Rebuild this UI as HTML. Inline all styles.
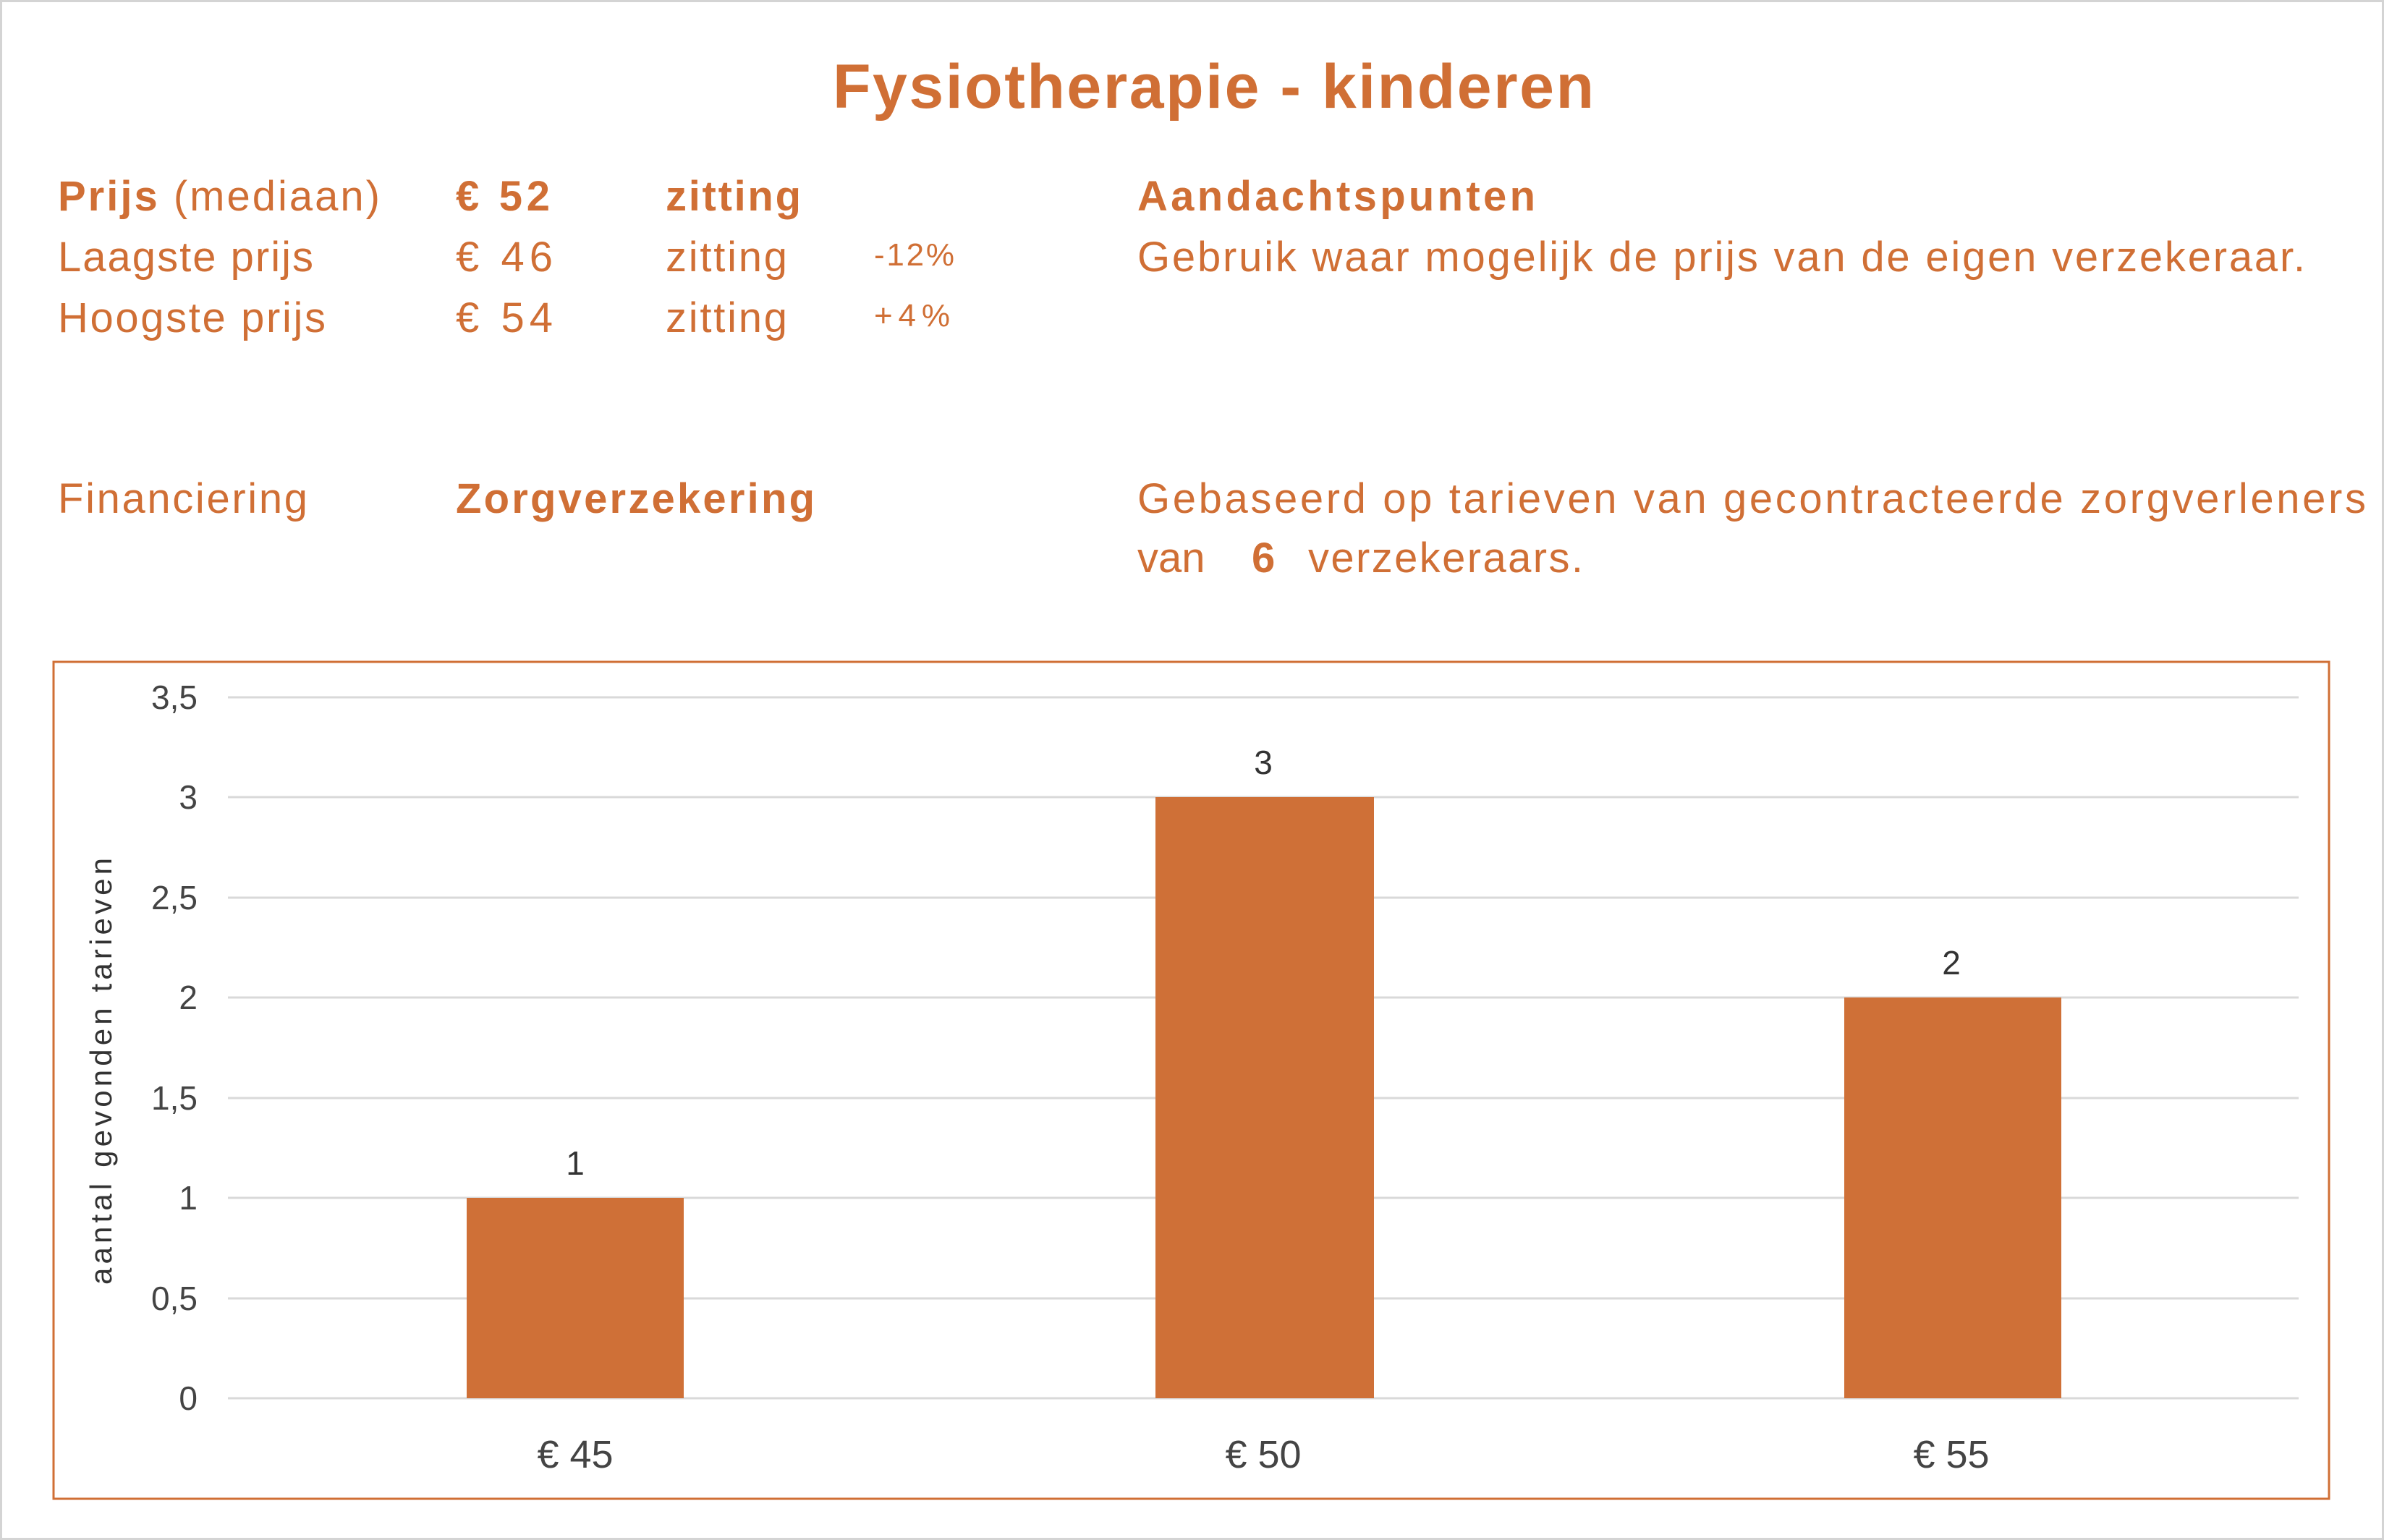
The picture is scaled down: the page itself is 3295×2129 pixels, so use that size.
<!DOCTYPE html>
<html><head><meta charset="utf-8"><style>html,body{margin:0;padding:0;background:#fff}svg{display:block}</style></head>
<body>
<svg width="3295" height="2129" xmlns="http://www.w3.org/2000/svg" font-family="Liberation Sans, sans-serif">
<rect x="0" y="0" width="3295" height="2129" fill="#fff"/>
<rect x="1.5" y="1.5" width="3292" height="2126" fill="none" stroke="#d4d4d4" stroke-width="3"/>
<g fill="#D06F35">
<text x="1677" y="149" font-size="86" font-weight="bold" text-anchor="middle" textLength="1052">Fysiotherapie - kinderen</text>
<g font-size="58">
<text x="80" y="291" textLength="445"><tspan font-weight="bold">Prijs</tspan> (mediaan)</text>
<text x="630" y="291" font-weight="bold" textLength="130">€ 52</text>
<text x="920" y="291" font-weight="bold" textLength="187">zitting</text>
<text x="1572" y="291" font-weight="bold" textLength="550">Aandachtspunten</text>
<text x="80" y="375" textLength="353">Laagste prijs</text>
<text x="630" y="375" textLength="134">€ 46</text>
<text x="920" y="375" textLength="168">zitting</text>
<text x="1208" y="367" font-size="44" textLength="111">-12%</text>
<text x="1572" y="375" textLength="1614">Gebruik waar mogelijk de prijs van de eigen verzekeraar.</text>
<text x="80" y="459" textLength="370">Hoogste prijs</text>
<text x="630" y="459" textLength="134">€ 54</text>
<text x="920" y="459" textLength="168">zitting</text>
<text x="1208" y="451" font-size="44" textLength="105">+4%</text>
<text x="80" y="709" textLength="345">Financiering</text>
<text x="630" y="709" font-weight="bold" textLength="496">Zorgverzekering</text>
<text x="1572" y="709" textLength="1698">Gebaseerd op tarieven van gecontracteerde zorgverleners</text>
<text x="1572" y="791">van</text>
<text x="1730" y="791" font-weight="bold">6</text>
<text x="1808" y="791" textLength="380">verzekeraars.</text>
</g>
</g>
<rect x="74" y="915" width="3145" height="1157" fill="none" stroke="#D06F35" stroke-width="3"/>
<g stroke="#d9d9d9" stroke-width="3">
<line x1="315" x2="3177" y1="964" y2="964"/>
<line x1="315" x2="3177" y1="1102" y2="1102"/>
<line x1="315" x2="3177" y1="1241" y2="1241"/>
<line x1="315" x2="3177" y1="1379" y2="1379"/>
<line x1="315" x2="3177" y1="1518" y2="1518"/>
<line x1="315" x2="3177" y1="1656" y2="1656"/>
<line x1="315" x2="3177" y1="1795" y2="1795"/>
<line x1="315" x2="3177" y1="1933" y2="1933"/>
</g>
<g fill="#CF7037">
<rect x="645" y="1656" width="300" height="277"/>
<rect x="1597" y="1102" width="302" height="831"/>
<rect x="2549" y="1379" width="300" height="554"/>
</g>
<g fill="#444" font-size="46" text-anchor="end">
<text x="273" y="980">3,5</text>
<text x="273" y="1118">3</text>
<text x="273" y="1257">2,5</text>
<text x="273" y="1395">2</text>
<text x="273" y="1534">1,5</text>
<text x="273" y="1672">1</text>
<text x="273" y="1811">0,5</text>
<text x="273" y="1949">0</text>
</g>
<g fill="#333" font-size="46" text-anchor="middle">
<text x="795" y="1624">1</text>
<text x="1746" y="1070">3</text>
<text x="2697" y="1347">2</text>
</g>
<g fill="#444" font-size="54" text-anchor="middle">
<text x="795" y="2029">€ 45</text>
<text x="1746" y="2029">€ 50</text>
<text x="2697" y="2029">€ 55</text>
</g>
<text transform="translate(154,1481) rotate(-90)" fill="#333" font-size="42" text-anchor="middle" textLength="590">aantal gevonden tarieven</text>
</svg>
</body></html>
